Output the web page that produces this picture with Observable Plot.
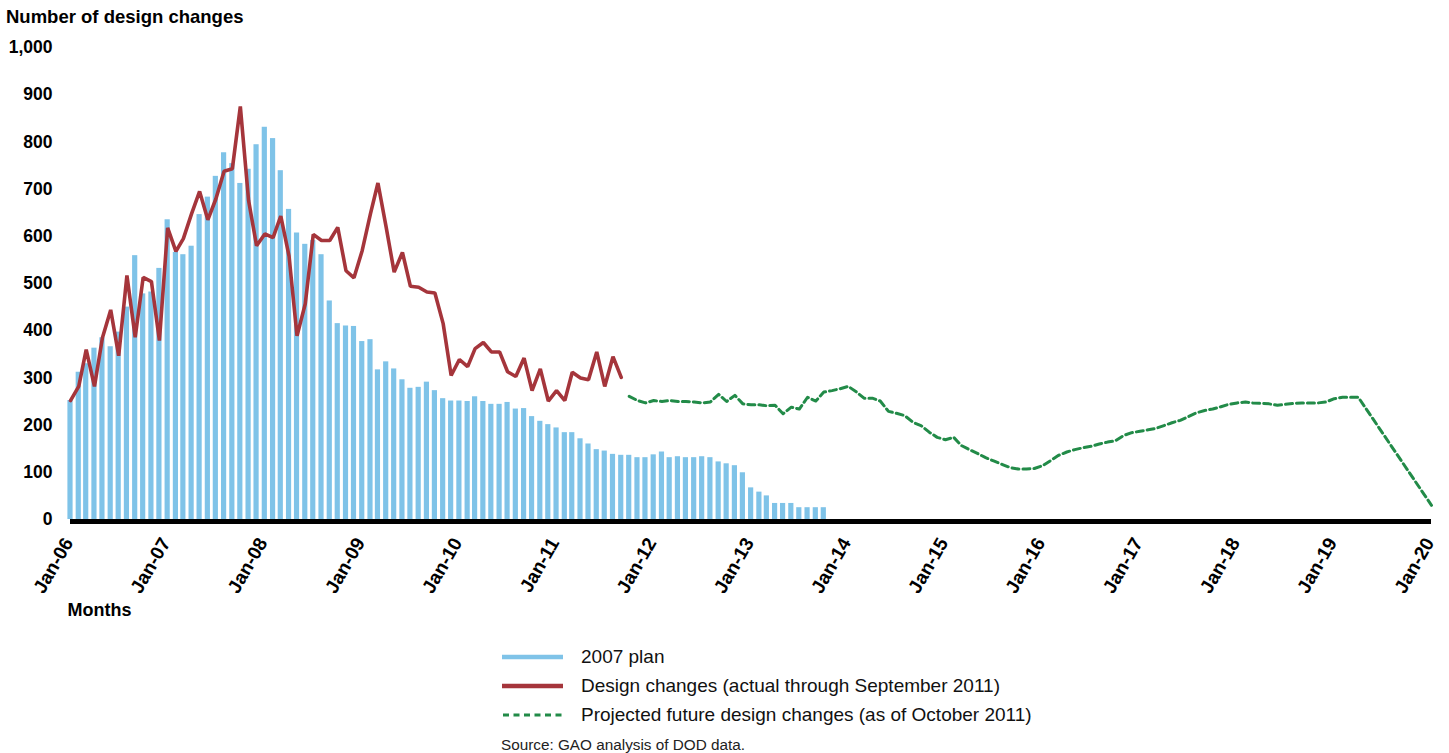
<!DOCTYPE html>
<html><head><meta charset="utf-8">
<script src="https://cdn.jsdelivr.net/npm/d3@7"></script>
<script src="https://cdn.jsdelivr.net/npm/@observablehq/plot@0.6"></script>
<style>
body{margin:0;background:#fff;font-family:"Liberation Sans",Arial,sans-serif;width:1449px;height:753px;overflow:hidden}
#title{position:relative;height:30px}
#title span{position:absolute;left:6px;top:7px;line-height:20px;font-size:18.5px;font-weight:bold;color:#000;white-space:nowrap}
#legend{position:relative;height:123px}
.row{position:absolute;left:0;width:1449px;height:20px;line-height:20px;font-size:19px;color:#111}
.row svg{position:absolute;left:501px;top:0}
.row span{position:absolute;left:581px;top:0;white-space:nowrap}
#source{position:absolute;left:501px;top:106px;font-size:15.3px;line-height:18px;color:#222;white-space:nowrap}
</style></head><body>
<div id="title"><span>Number of design changes</span></div>
<div id="chart"></div>
<div id="legend"></div>
<script>
// ---- data ----
const planStart = "2006-01";      // 2007 plan, monthly
const planValues = [252,312,330,363,385,366,397,450,559,478,482,532,
  635,566,561,579,646,683,727,777,754,712,742,794,
  831,807,739,657,607,583,591,561,463,415,410,409,
  377,381,317,334,319,296,278,280,291,273,256,251,
  251,250,260,250,244,244,248,234,235,218,208,201,
  194,184,184,171,160,148,145,138,136,136,131,131,
  137,143,131,133,131,131,133,131,122,118,114,99,
  67,58,50,34,34,34,25,25,25,25];

const actualStart = "2006-01";    // actual through September 2011
const actualValues = [252,282,360,282,385,444,347,517,386,513,504,379,
  618,568,595,648,695,635,679,738,743,875,676,580,
  605,597,643,558,389,457,604,591,591,619,527,512,
  570,648,713,619,524,566,494,492,482,480,415,305,
  339,324,362,375,355,355,313,303,342,273,319,251,
  273,252,312,300,296,355,282,345,301];

const projectedStart = "2011-10"; // projected as of October 2011
const projectedValues = [261,252,247,
  252,250,252,250,250,249,247,249,265,250,263,245,
  243,243,241,242,224,238,234,259,251,270,273,277,
  282,270,257,257,251,229,225,220,206,199,185,174,
  169,174,157,148,140,131,124,117,110,107,107,108,
  114,125,136,143,148,152,155,160,164,167,178,184,
  187,190,193,199,205,210,218,226,231,234,239,244,
  247,249,247,246,245,242,244,246,247,247,247,249,
  256,259,259,259];
const projectedEndMonth = "2020-01";
const projectedEndValue = 30;

const xTickLabels = ["Jan-06","Jan-07","Jan-08","Jan-09","Jan-10","Jan-11","Jan-12",
  "Jan-13","Jan-14","Jan-15","Jan-16","Jan-17","Jan-18","Jan-19","Jan-20"];
const yTicks = [0,100,200,300,400,500,600,700,800,900,1000];

const legendLabels = ["2007 plan","Design changes (actual through September 2011)",
  "Projected future design changes (as of October 2011)"];
const sourceText = "Source: GAO analysis of DOD data.";

// ---- build tables ----
const parseMonth = d3.utcParse("%Y-%m");
const parseTick = d3.utcParse("%b-%y");
const series = (start, vals) => vals.map((v, i) => ({date: d3.utcMonth.offset(parseMonth(start), i), value: v}));
const plan = series(planStart, planValues);
const actual = series(actualStart, actualValues);
const projected = series(projectedStart, projectedValues)
  .concat([{date: parseMonth(projectedEndMonth), value: projectedEndValue}]);
const tickDates = xTickLabels.map(parseTick);

const BLUE = "#7fc3e8", RED = "#a5353b", GREEN = "#228b48";

const chart = Plot.plot({
  width: 1449, height: 600,
  marginLeft: 70, marginRight: 18, marginTop: 17, marginBottom: 111,
  style: {fontFamily: '"Liberation Sans", Arial, sans-serif', fontWeight: "bold", color: "#000", background: "white", overflow: "visible"},
  x: {type: "utc", domain: [tickDates[0], tickDates[tickDates.length - 1]]},
  y: {domain: [0, 1000]},
  marks: [
    Plot.rectY(plan, {x1: d => d3.utcDay.offset(d.date, -15), x2: d => d3.utcDay.offset(d.date, 15), y: "value", fill: BLUE, insetLeft: 1.4, insetRight: 1.4}),
    Plot.ruleY([0], {stroke: "#000", strokeWidth: 5, dy: 2}),
    Plot.line(actual, {x: "date", y: "value", stroke: RED, strokeWidth: 3.6, strokeLinejoin: "miter"}),
    Plot.line(projected, {x: "date", y: "value", stroke: GREEN, strokeWidth: 3, strokeDasharray: "7,4"}),
    Plot.axisY({ticks: yTicks, tickFormat: d3.format(","), tickSize: 0, tickPadding: 18, fontSize: 17.5, label: null}),
    Plot.axisX({ticks: tickDates, tickFormat: d3.utcFormat("%b-%y"), tickSize: 0, tickPadding: 20, tickRotate: -60, dx: -2, fontSize: 19, label: null}),
    Plot.text(["Months"], {frameAnchor: "bottom-left", dx: -3, dy: 91, fontSize: 18, textAnchor: "start", lineAnchor: "middle"})
  ]
});
document.getElementById("chart").appendChild(chart);

// ---- legend ----
const legend = document.getElementById("legend");
const rowsTop = [17, 46, 75];
const swatches = [
  `<line x1="1" y1="10" x2="62" y2="10" stroke="${BLUE}" stroke-width="4.5"/>`,
  `<line x1="1" y1="10" x2="62" y2="10" stroke="${RED}" stroke-width="4.5"/>`,
  `<line x1="2" y1="10" x2="62" y2="10" stroke="${GREEN}" stroke-width="3" stroke-dasharray="6,4.5"/>`
];
legendLabels.forEach((lab, i) => {
  const row = document.createElement("div");
  row.className = "row";
  row.style.top = rowsTop[i] + "px";
  row.innerHTML = `<svg width="64" height="20">${swatches[i]}</svg><span>${lab}</span>`;
  legend.appendChild(row);
});
const src = document.createElement("div");
src.id = "source";
src.textContent = sourceText;
legend.appendChild(src);
</script>
</body></html>
